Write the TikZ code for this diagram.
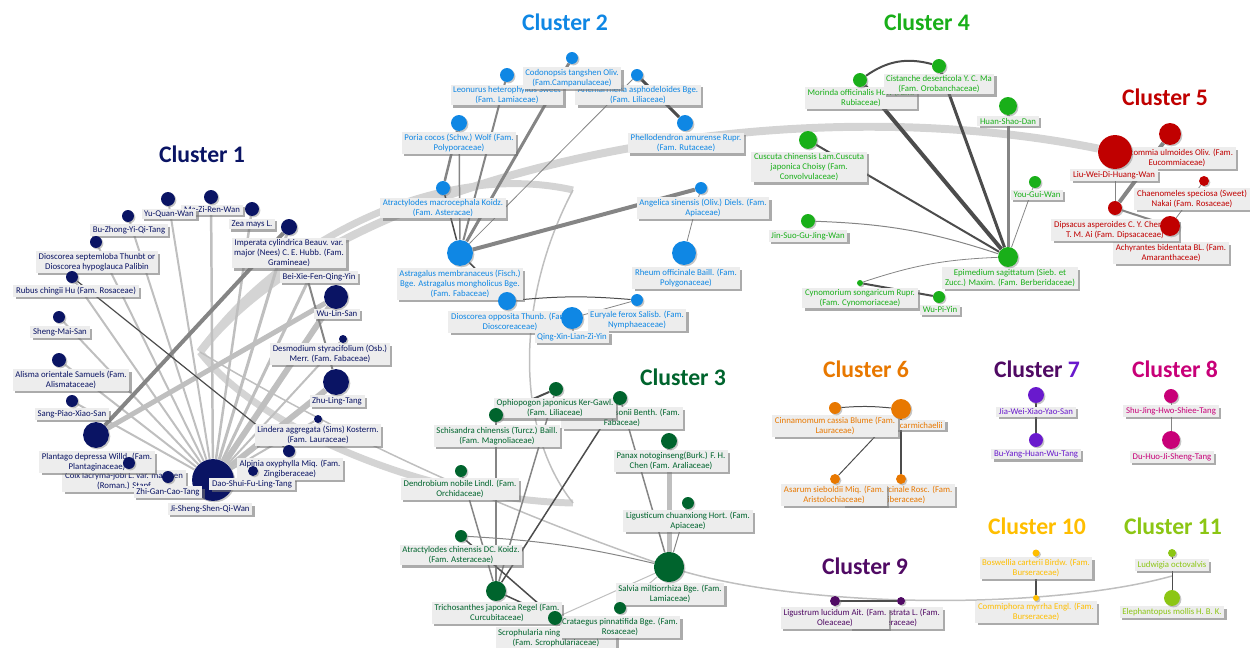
\documentclass[tikz,border=0pt]{standalone}
\usepackage{fontspec}
\setmainfont{Carlito}
\usetikzlibrary{shadows,positioning}
\pgfdeclarelayer{edges}
\pgfdeclarelayer{labels}
\pgfsetlayers{edges,labels,main}
\definecolor{cl1}{RGB}{10,20,100}
\definecolor{cl2}{RGB}{15,135,228}
\definecolor{cl3}{RGB}{0,100,45}
\definecolor{cl4}{RGB}{25,175,25}
\definecolor{cl5}{RGB}{192,0,0}
\definecolor{cl6}{RGB}{232,120,0}
\definecolor{cl7}{RGB}{105,25,205}
\definecolor{cl8}{RGB}{200,0,120}
\definecolor{cl9}{RGB}{80,10,100}
\definecolor{cl10}{RGB}{255,190,0}
\definecolor{cl11}{RGB}{140,198,20}
\tikzset{
  herb/.style={circle, inner sep=0pt, minimum size=#1*1.134pt,
    drop shadow={shadow xshift=0.8pt, shadow yshift=-0.8pt, opacity=0.45}},
  hlabel/.style={fill=black!7, inner xsep=1.5pt, inner ysep=1pt, align=center, text=#1,
    font=\fontsize{5}{5.7}\selectfont,
    drop shadow={shadow xshift=1.3pt, shadow yshift=-1.3pt, fill=black!55, opacity=0.6}},
  ctitle/.style={font=\fontsize{13.5}{15}\selectfont\bfseries, text=#1},
  edgepale/.style={draw=black!25, line width=#1*0.567pt},
  edgemid/.style={draw=black!48, line width=#1*0.567pt},
  edgedark/.style={draw=black!70, line width=#1*0.567pt},
  band/.style={draw=black!17, line width=#1*0.567pt},
}
\begin{document}
\begin{tikzpicture}[x=0.02cm, y=-0.02cm, line cap=round]
\useasboundingbox (0,0) rectangle (1250,648);

% titles
\node[ctitle=cl1] (t1) at (202,154) {Cluster 1};
\node[ctitle=cl2] (t2) at (565,22) {Cluster 2};
\node[ctitle=cl3] (t3) at (683,377) {Cluster 3};
\node[ctitle=cl4] (t4) at (927,22) {Cluster 4};
\node[ctitle=cl5] (t5) at (1165,97) {Cluster 5};
\node[ctitle=cl6] (t6) at (866,369) {Cluster 6};
\node[ctitle=cl7] (t7) at (1037,369) {\textcolor{cl9}{Cluster} 7};
\node[ctitle=cl8] (t8) at (1175,369) {Cluster 8};
\node[ctitle=cl9] (t9) at (865,566) {Cluster 9};
\node[ctitle=cl10] (t10) at (1037,526) {Cluster 10};
\node[ctitle=cl11] (t11) at (1173,526) {Cluster 11};

% cluster 1
\node[herb=21, fill=cl1] (JS) at (213,480) {};
\node[herb=5, fill=cl1] (DF) at (253,471) {};
\node[herb=6, fill=cl1] (ZG) at (168,477) {};
\node[herb=6, fill=cl1] (CL) at (129,463) {};
\node[herb=13, fill=cl1] (PD) at (96,435) {};
\node[herb=6, fill=cl1] (SP) at (72,401) {};
\node[herb=7, fill=cl1] (AM) at (59,360) {};
\node[herb=6, fill=cl1] (SM) at (59,317) {};
\node[herb=6, fill=cl1] (RC) at (72,277) {};
\node[herb=6, fill=cl1] (DS) at (96,242) {};
\node[herb=6, fill=cl1] (BZ) at (128,216) {};
\node[herb=7, fill=cl1] (YQ) at (168,199) {};
\node[herb=7, fill=cl1] (MZ) at (211,197) {};
\node[herb=7, fill=cl1] (ZM) at (252,209) {};
\node[herb=8, fill=cl1] (IC) at (289,227) {};
\node[herb=12, fill=cl1] (WL) at (336,297) {};
\node[herb=4, fill=cl1] (DY) at (343,339) {};
\node[herb=13, fill=cl1] (ZL) at (336,382) {};
\node[herb=4, fill=cl1] (LA) at (318,419) {};
\node[herb=6, fill=cl1] (AP) at (289,451) {};
\coordinate (BX) at (308,281);
\node[hlabel=cl1] (lDF) at (252,484) {Dao-Shui-Fu-Ling-Tang};
\node[hlabel=cl1] (lZG) at (168,492) {Zhi-Gan-Cao-Tang};

% cluster 2
\node[herb=6, fill=cl2] (CT) at (572,58) {};
\node[herb=7, fill=cl2] (LH) at (507,75) {};
\node[herb=6, fill=cl2] (AA) at (637,75) {};
\node[herb=8, fill=cl2] (PA) at (685,123) {};
\node[herb=8, fill=cl2] (PC) at (459,123) {};
\node[herb=7, fill=cl2] (AMc) at (443,188) {};
\node[herb=6, fill=cl2] (AS) at (701,188) {};
\node[herb=13, fill=cl2] (AG) at (460,253) {};
\node[herb=12, fill=cl2] (RO) at (684,253) {};
\node[herb=9, fill=cl2] (DO) at (507,301) {};
\node[herb=6, fill=cl2] (EF) at (637,300) {};
\node[herb=11, fill=cl2] (QX) at (572,318) {};

% cluster 3
\node[herb=7, fill=cl3] (OJ) at (556,389) {};
\node[herb=7, fill=cl3] (PT) at (620,398) {};
\node[herb=7, fill=cl3] (SC) at (496,415) {};
\node[herb=8, fill=cl3] (PN) at (669,441) {};
\node[herb=6, fill=cl3] (DN) at (461,471) {};
\node[herb=6, fill=cl3] (LC) at (688,503) {};
\node[herb=6, fill=cl3] (AC) at (461,536) {};
\node[herb=15, fill=cl3] (SMi) at (669,567) {};
\node[herb=10, fill=cl3] (TJ) at (496,591) {};
\node[herb=6, fill=cl3] (CP) at (620,608) {};
\node[herb=7, fill=cl3] (SN) at (555,618) {};

% cluster 4
\node[herb=7, fill=cl4] (MO) at (860,80) {};
\node[herb=7, fill=cl4] (CD) at (939,66) {};
\node[herb=9, fill=cl4] (HS) at (1008,106) {};
\node[herb=9, fill=cl4] (CC) at (808,140) {};
\node[herb=6, fill=cl4] (YG) at (1035,182) {};
\node[herb=7, fill=cl4] (JG) at (808,221) {};
\node[herb=10, fill=cl4] (ES) at (1008,257) {};
\node[herb=3, fill=cl4] (CS) at (860,283) {};
\node[herb=6, fill=cl4] (WP) at (939,297) {};

% cluster 5
\node[herb=17, fill=cl5] (LW) at (1115,152) {};
\node[herb=11, fill=cl5] (EU) at (1170,134) {};
\node[herb=5, fill=cl5] (CH) at (1204,181) {};
\node[herb=7, fill=cl5] (DA) at (1115,208) {};
\node[herb=10, fill=cl5] (AB) at (1170,226) {};

% clusters 6 to 11
\node[herb=6, fill=cl6] (CA) at (835,408) {};
\node[herb=10, fill=cl6] (AK) at (901,409) {};
\node[herb=5, fill=cl6] (SB) at (835,479) {};
\node[herb=5, fill=cl6] (ZO) at (901,479) {};
\node[herb=8, fill=cl7] (JW) at (1036,395) {};
\node[herb=7, fill=cl7] (BY) at (1036,440) {};
\node[herb=7, fill=cl8] (SJ) at (1171,396) {};
\node[herb=9, fill=cl8] (DH) at (1171,440) {};
\node[herb=5, fill=cl9] (LL) at (835,601) {};
\node[herb=4, fill=cl9] (EP) at (901,601) {};
\node[herb=3.5, fill=cl10] (BC) at (1036,553) {};
\node[herb=3, fill=cl10] (CM) at (1036,598) {};
\node[herb=4, fill=cl11] (LO) at (1172,553) {};
\node[herb=8, fill=cl11] (EM) at (1172,598) {};

\coordinate (hub) at (200,352);
\coordinate (k2) at (573,190);
\coordinate (k3) at (573,503);
\coordinate (k11) at (1172,576);

\begin{pgfonlayer}{edges}
% links between clusters
\draw[band=8] (hub) .. controls (330,180) and (760,80) .. (LW);
\draw[band=7] (hub) .. controls (280,240) and (440,160) .. (k2);
\draw[band=7] (hub) .. controls (260,430) and (430,500) .. (k3);
\draw[edgepale=1.5] (k2) .. controls (515,300) and (515,430) .. (k3);
\draw[edgepale=1.5] (hub) .. controls (380,460) and (560,530) .. (SMi.center)
  .. controls (800,610) and (1050,610) .. (k11);
% cluster 1
\draw[edgepale=2] (JS) -- (SM);
\draw[edgepale=2] (JS) -- (AM);
\draw[edgepale=2] (JS) -- (SP);
\draw[edgepale=2] (JS) -- (RC);
\draw[edgepale=2] (JS) -- (DS);
\draw[edgepale=2] (JS) -- (BZ);
\draw[edgepale=2] (JS) -- (YQ);
\draw[edgepale=2.5] (JS) -- (MZ);
\draw[edgepale=2.5] (JS) -- (ZM);
\draw[edgepale=3] (JS) -- (IC);
\draw[edgepale=3] (JS) -- (BX);
\draw[edgepale=2] (JS) -- (DY);
\draw[edgepale=2] (JS) -- (LA);
\draw[edgepale=6] (JS) -- (WL);
\draw[edgepale=6] (JS) -- (ZL);
\draw[edgemid=4] (PD) -- (IC);
\draw[edgepale=5] (PD) -- (WL);
\draw[edgemid=2] (BX) -- (ZL);
\draw[edgedark=1.2] (RC) -- (AP);
% cluster 2
\draw[edgedark=1.5] (AG) -- (AMc);
\draw[edgemid=2.5] (PC) -- (AMc);
\draw[edgemid=1.5] (PC) -- (AG);
\draw[edgemid=2] (AG) -- (LH);
\draw[edgemid=3] (AG) -- (CT);
\draw[edgemid=0.8] (AG) -- (AA);
\draw[edgedark=3] (AA) -- (PA);
\draw[edgemid=4] (AG) -- (AS);
\draw[edgemid=0.8] (AS) -- (RO);
\draw[edgedark=1.5] (AG) -- (DO);
\draw[edgedark=1] (DO) to[bend left=5] (EF);
\draw[edgemid=0.8] (EF) -- (QX);
% cluster 3
\draw[edgedark=2] (OJ) -- (SC);
\draw[edgemid=1.5] (OJ) -- (TJ);
\draw[edgemid=1.5] (SC) -- (TJ);
\draw[edgedark=1.5] (PT) -- (TJ);
\draw[edgemid=1.5] (PT) -- (SMi);
\draw[edgepale=5] (PN) -- (SMi);
\draw[edgemid=1] (LC) -- (SMi);
\draw[edgemid=1.5] (DN) -- (TJ);
\draw[edgemid=1] (AC) to[bend left=5] (SMi);
\draw[edgedark=1.5] (AC) -- (SN);
\draw[edgedark=1.5] (TJ) -- (SN);
\draw[edgepale=1] (SMi) -- (CP);
\draw[edgepale=1] (SMi) -- (SN);
% cluster 4
\draw[edgedark=2] (MO) to[bend left=25] (CD);
\draw[edgedark=4] (MO) -- (ES);
\draw[edgedark=3] (CD) -- (ES);
\draw[edgemid=3] (HS) -- (ES);
\draw[edgedark=2] (CC) -- (ES);
\draw[edgemid=0.8] (YG) -- (ES);
\draw[edgemid=1] (JG) to[bend left=8] (ES);
\draw[edgemid=0.8] (CS) to[bend left=8] (ES);
\draw[edgedark=2] (CS) -- (WP);
% cluster 5
\draw[edgemid=0.8] (LW) -- (DA);
\draw[edgemid=4] (EU) -- (DA);
\draw[edgemid=2] (DA) -- (AB);
\draw[edgemid=0.8] (CH) -- (AB);
% clusters 6 to 11
\draw[edgedark=1] (CA) to[bend left=5] (AK);
\draw[edgedark=1] (AK) -- (SB);
\draw[edgedark=2] (AK) -- (ZO);
\draw[edgedark=2.5] (JW) -- (BY);
\draw[edgemid=0.8] (SJ) -- (DH);
\draw[edgedark=2] (LL) -- (EP);
\draw[edgedark=1.5] (BC) -- (CM);
\draw[edgedark=1] (LO) -- (EM);
\end{pgfonlayer}

\begin{pgfonlayer}{labels}
% cluster 1
\node[hlabel=cl1] (lJS) at (210,509) {Ji-Sheng-Shen-Qi-Wan};
\node[hlabel=cl1] (lCL) at (124,481) {Coix lacryma-jobi L. var. ma-yuen\\(Roman.) Stapf};
\node[hlabel=cl1] (lPD) at (97,462) {Plantago depressa Willd. (Fam.\\Plantaginaceae)};
\node[hlabel=cl1] (lSP) at (72,414) {Sang-Piao-Xiao-San};
\node[hlabel=cl1] (lAM) at (71,380) {Alisma orientale Samuels (Fam.\\Alismataceae)};
\node[hlabel=cl1] (lSM) at (60,332) {Sheng-Mai-San};
\node[hlabel=cl1] (lRC) at (76,291) {Rubus chingii Hu (Fam. Rosaceae)};
\node[hlabel=cl1] (lDS) at (97,262) {Dioscorea septemloba Thunbt or\\Dioscorea hypoglauca Palibin};
\node[hlabel=cl1] (lBZ) at (129,230) {Bu-Zhong-Yi-Qi-Tang};
\node[hlabel=cl1] (lMZ) at (212,210) {Ma-Zi-Ren-Wan};
\node[hlabel=cl1] (lYQ) at (169,214) {Yu-Quan-Wan};
\node[hlabel=cl1] (lZM) at (252,224) {Zea mays L.};
\node[hlabel=cl1] (lIC) at (289,253) {Imperata cylindrica Beauv. var.\\major (Nees) C. E. Hubb. (Fam.\\Gramineae)};
\node[hlabel=cl1] (lBX) at (319,277) {Bei-Xie-Fen-Qing-Yin};
\node[hlabel=cl1] (lWL) at (337,314) {Wu-Lin-San};
\node[hlabel=cl1] (lDY) at (330,354) {Desmodium styracifolium (Osb.)\\Merr. (Fam. Fabaceae)};
\node[hlabel=cl1] (lZL) at (337,401) {Zhu-Ling-Tang};
\node[hlabel=cl1] (lLA) at (318,435) {Lindera aggregata (Sims) Kosterm.\\(Fam. Lauraceae)};
\node[hlabel=cl1] (lAP) at (290,469) {Alpinia oxyphylla Miq. (Fam.\\Zingiberaceae)};
% cluster 2
\node[hlabel=cl2] (lAA) at (638,95) {Anemarrhena asphodeloides Bge.\\(Fam. Liliaceae)};
\node[hlabel=cl2] (lLH) at (507,95) {Leonurus heterophyllus Sweet\\(Fam. Lamiaceae)};
\node[hlabel=cl2] (lCT) at (572,78) {Codonopsis tangshen Oliv.\\(Fam.Campanulaceae)};
\node[hlabel=cl2] (lPA) at (686,143) {Phellodendron amurense Rupr.\\(Fam. Rutaceae)};
\node[hlabel=cl2] (lPC) at (459,143) {Poria cocos (Schw.) Wolf (Fam.\\Polyporaceae)};
\node[hlabel=cl2] (lAMc) at (443,208) {Atractylodes macrocephala Koidz.\\(Fam. Asteracae)};
\node[hlabel=cl2] (lAS) at (703,208) {Angelica sinensis (Oliv.) Diels. (Fam.\\Apiaceae)};
\node[hlabel=cl2] (lAG) at (460,284) {Astragalus membranaceus (Fisch.)\\Bge. Astragalus mongholicus Bge.\\(Fam. Fabaceae)};
\node[hlabel=cl2] (lRO) at (686,278) {Rheum officinale Baill. (Fam.\\Polygonaceae)};
\node[hlabel=cl2] (lDO) at (510,322) {Dioscorea opposita Thunb. (Fam.\\Dioscoreaceae)};
\node[hlabel=cl2] (lEF) at (637,320) {Euryale ferox Salisb. (Fam.\\Nymphaeaceae)};
\node[hlabel=cl2] (lQX) at (572,337) {Qing-Xin-Lian-Zi-Yin};
% cluster 3
\node[hlabel=cl3] (lPT) at (622,418) {Pueraria thomsonii Benth. (Fam.\\Fabaceae)};
\node[hlabel=cl3] (lOJ) at (555,408) {Ophiopogon japonicus Ker-Gawl.\\(Fam. Liliaceae)};
\node[hlabel=cl3] (lSC) at (497,436) {Schisandra chinensis (Turcz.) Baill.\\(Fam. Magnoliaceae)};
\node[hlabel=cl3] (lPN) at (671,461) {Panax notoginseng(Burk.) F. H.\\Chen (Fam. Araliaceae)};
\node[hlabel=cl3] (lDN) at (460,489) {Dendrobium nobile Lindl. (Fam.\\Orchidaceae)};
\node[hlabel=cl3] (lLC) at (688,521) {Ligusticum chuanxiong Hort. (Fam.\\Apiaceae)};
\node[hlabel=cl3] (lAC) at (461,555) {Atractylodes chinensis DC. Koidz.\\(Fam. Asteraceae)};
\node[hlabel=cl3] (lSMi) at (670,594) {Salvia miltiorrhiza Bge. (Fam.\\Lamiaceae)};
\node[hlabel=cl3] (lTJ) at (497,613) {Trichosanthes japonica Regel (Fam.\\Curcubitaceae)};
\node[hlabel=cl3] (lSN) at (556,638) {Scrophularia ningpoensis Hemsl.\\(Fam. Scrophulariaceae)};
\node[hlabel=cl3] (lCP) at (620,627) {Crataegus pinnatifida Bge. (Fam.\\Rosaceae)};
% cluster 4
\node[hlabel=cl4] (lMO) at (861,98) {Morinda officinalis How (Fam.\\Rubiaceae)};
\node[hlabel=cl4] (lCD) at (939,84) {Cistanche deserticola Y. C. Ma\\(Fam. Orobanchaceae)};
\node[hlabel=cl4] (lHS) at (1008,121) {Huan-Shao-Dan};
\node[hlabel=cl4] (lCC) at (809,167) {Cuscuta chinensis Lam.Cuscuta\\japonica Choisy (Fam.\\Convolvulaceae)};
\node[hlabel=cl4] (lYG) at (1037,195) {You-Gui-Wan};
\node[hlabel=cl4] (lJG) at (808,236) {Jin-Suo-Gu-Jing-Wan};
\node[hlabel=cl4] (lES) at (1010,278) {Epimedium sagittatum (Sieb. et\\Zucc.) Maxim. (Fam. Berberidaceae)};
\node[hlabel=cl4] (lCS) at (860,298) {Cynomorium songaricum Rupr.\\(Fam. Cynomoriaceae)};
\node[hlabel=cl4] (lWP) at (940,310) {Wu-Pi-Yin};
% cluster 5
\node[hlabel=cl5] (lEU) at (1177,158) {Eucommia ulmoides Oliv. (Fam.\\Eucommiaceae)};
\node[hlabel=cl5] (lLW) at (1114,175) {Liu-Wei-Di-Huang-Wan};
\node[hlabel=cl5] (lCH) at (1192,199) {Chaenomeles speciosa (Sweet)\\Nakai (Fam. Rosaceae)};
\node[hlabel=cl5] (lAB) at (1171,253) {Achyrantes bidentata BL. (Fam.\\Amaranthaceae)};
\node[hlabel=cl5] (lDA) at (1115,230) {Dipsacus asperoides C. Y. Cheng at\\T. M. Ai (Fam. Dipsacaceae)};
% clusters 6 to 11
\node[hlabel=cl6] (lAK) at (903,425) {Aconitum carmichaelii};
\node[hlabel=cl6] (lCA) at (835,426) {Cinnamomum cassia Blume (Fam.\\Lauraceae)};
\node[hlabel=cl6] (lZO) at (899,495) {Zingiber officinale Rosc. (Fam.\\Zingiberaceae)};
\node[hlabel=cl6] (lSB) at (834,495) {Asarum sieboldii Miq. (Fam.\\Aristolochiaceae)};
\node[hlabel=cl7] (lJW) at (1036,412) {Jia-Wei-Xiao-Yao-San};
\node[hlabel=cl7] (lBY) at (1036,454) {Bu-Yang-Huan-Wu-Tang};
\node[hlabel=cl8] (lSJ) at (1171,411) {Shu-Jing-Hwo-Shiee-Tang};
\node[hlabel=cl8] (lDH) at (1172,457) {Du-Huo-Ji-Sheng-Tang};
\node[hlabel=cl9] (lEP) at (896,618) {Eclipta prostrata L. (Fam.\\Asteraceae)};
\node[hlabel=cl9] (lLL) at (835,618) {Ligustrum lucidum Ait. (Fam.\\Oleaceae)};
\node[hlabel=cl10] (lBC) at (1036,568) {Boswellia carterii Birdw. (Fam.\\Burseraceae)};
\node[hlabel=cl10] (lCM) at (1036,612) {Commiphora myrrha Engl. (Fam.\\Burseraceae)};
\node[hlabel=cl11] (lLO) at (1172,565) {Ludwigia octovalvis};
\node[hlabel=cl11] (lEM) at (1172,612) {Elephantopus mollis H. B. K.};
\end{pgfonlayer}
\end{tikzpicture}
\end{document}
